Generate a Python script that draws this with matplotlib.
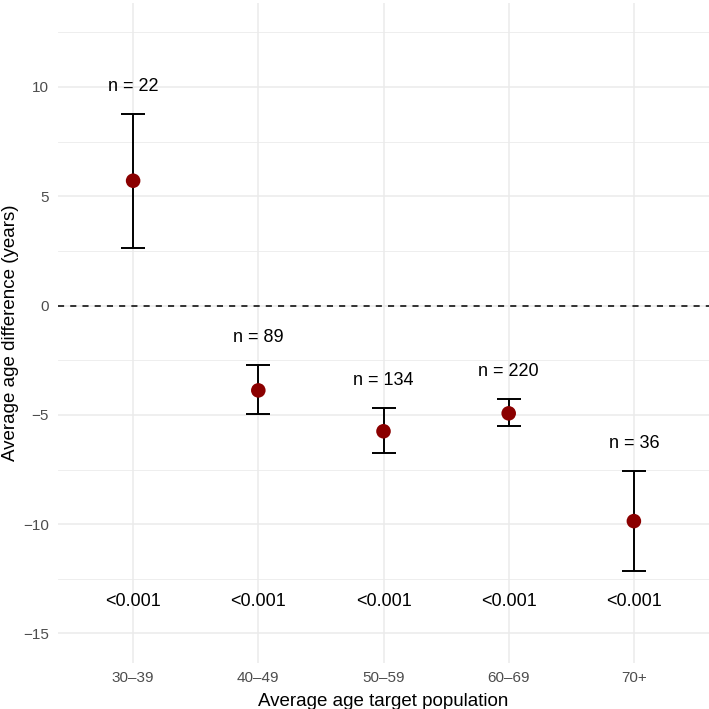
import matplotlib
matplotlib.use("Agg")
import matplotlib.pyplot as plt

plt.rcParams['font.family'] = ['Liberation Sans', 'DejaVu Sans']

# data
groups = ['30–39', '40–49', '50–59', '60–69', '70+']
mean_diff = [5.71, -3.88, -5.75, -4.93, -9.86]
ci_low = [2.65, -4.98, -6.76, -5.52, -12.15]
ci_high = [8.77, -2.74, -4.70, -4.29, -7.58]
n_labels = ['n = 22', 'n = 89', 'n = 134', 'n = 220', 'n = 36']
p_labels = ['<0.001', '<0.001', '<0.001', '<0.001', '<0.001']
p_y = -13.55
n_offset = 1.27

x = list(range(1, len(groups) + 1))

fig = plt.figure(figsize=(7.09, 7.09), dpi=100)
ax = fig.add_axes([58 / 709, 1 - 663 / 709, (709 - 58) / 709, (663 - 3) / 709])

# grid like theme_minimal
for v in [-15, -10, -5, 0, 5, 10]:
    ax.axhline(v, color='#ebebeb', lw=1.1, zorder=0)
for v in [-17.5, -12.5, -7.5, -2.5, 2.5, 7.5, 12.5]:
    ax.axhline(v, color='#ebebeb', lw=0.6, zorder=0)
for xi in x:
    ax.axvline(xi, color='#ebebeb', lw=1.1, zorder=0)

ax.axhline(0, color='black', lw=1.1, ls=(0, (4, 4)), zorder=1)

yerr = [[m - lo for m, lo in zip(mean_diff, ci_low)],
        [hi - m for m, hi in zip(mean_diff, ci_high)]]
ax.errorbar(x, mean_diff, yerr=yerr, fmt='none', ecolor='black',
            elinewidth=1.4, capsize=8.7, capthick=1.4, zorder=2)
ax.scatter(x, mean_diff, s=110, color='#8b0000', edgecolors='none', zorder=3)

for xi, hi, lab in zip(x, ci_high, n_labels):
    ax.text(xi, hi + n_offset, lab, ha='center', va='center', fontsize=13, color='black')
for xi, lab in zip(x, p_labels):
    ax.text(xi, p_y, lab, ha='center', va='center', fontsize=13, color='black')

ax.set_xlim(0.4, 5.6)
ax.set_ylim(-16.35, 13.84)
ax.set_xticks(x)
ax.set_xticklabels(groups)
ax.set_yticks([-15, -10, -5, 0, 5, 10])
ax.set_yticklabels(['−15', '−10', '−5', '0', '5', '10'])
ax.tick_params(length=0, labelsize=11, labelcolor='#4d4d4d')
ax.tick_params(axis='x', pad=6)
ax.tick_params(axis='y', pad=6.5)
for s in ax.spines.values():
    s.set_visible(False)

ax.set_xlabel('Average age target population', fontsize=13.5, labelpad=5.5)
ax.set_ylabel('Average age difference (years)', fontsize=13.5, labelpad=3)

fig.savefig('out.png', dpi=100)
